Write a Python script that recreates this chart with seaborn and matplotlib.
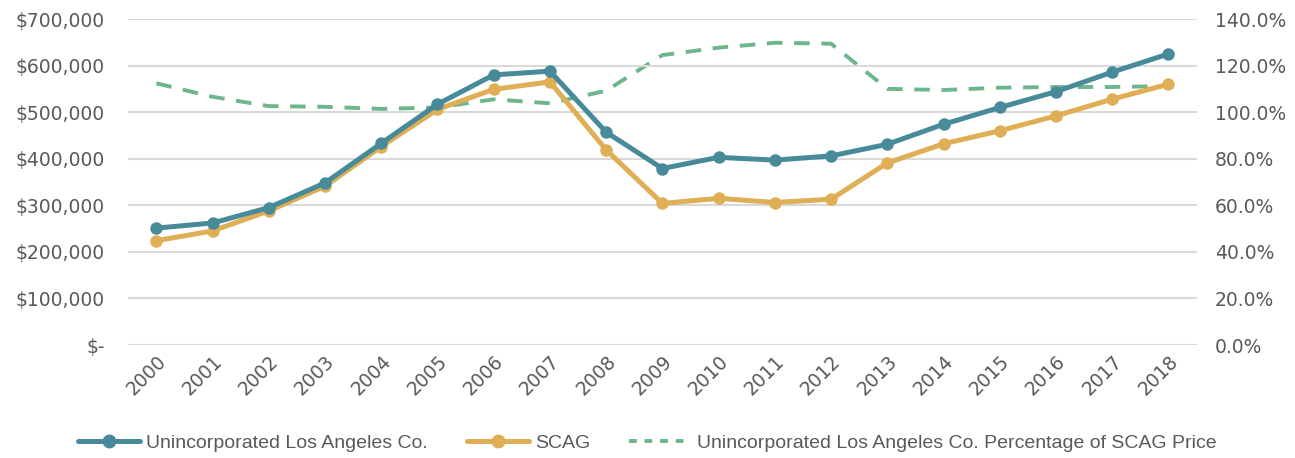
import pandas as pd
import numpy as np
import matplotlib
matplotlib.use('Agg')
import matplotlib.pyplot as plt
import seaborn as sns
from matplotlib.ticker import FuncFormatter, MultipleLocator
from matplotlib.lines import Line2D

# 数据
years = [str(y) for y in range(2000, 2019)]
unincorporated_la = [251000, 262000, 295000, 348000, 433000, 517000, 580000, 588000, 457000,
                     379000, 403000, 397000, 406000, 431000, 474000, 510000, 544000, 586000, 625000]
scag = [224000, 245000, 288000, 341000, 426000, 506000, 549000, 565000, 419000,
        304000, 315000, 306000, 313000, 391000, 432000, 460000, 492000, 528000, 560000]
pct_of_scag = [112.4, 106.6, 102.6, 102.3, 101.4, 102.0, 105.5, 103.8, 109.2,
               124.5, 127.7, 129.8, 129.4, 110.0, 109.5, 110.5, 110.8, 110.8, 111.2]

BLUE = '#478B9A'
GOLD = '#DFAE55'
GREEN = '#6DB68B'
GREY = '#595959'

sns.set_style('white')
plt.rcParams['font.family'] = ['DejaVu Sans']

df = pd.DataFrame({
    'pos': np.arange(len(years)),
    'year': years,
    'la': unincorporated_la,
    'scag': scag,
    'pct': pct_of_scag,
})

fig = plt.figure(figsize=(12.95, 4.58), dpi=100)
ax = fig.add_axes([0.099, 0.2467, 0.825, 0.7118])
ax2 = ax.twinx()

# 百分比虚线（右轴）
sns.lineplot(data=df, x='pos', y='pct', ax=ax2, color=GREEN, linewidth=2.8,
             linestyle=(0, (4, 3)), zorder=1)

sns.lineplot(data=df, x='pos', y='la', ax=ax, color=BLUE, linewidth=3.6,
             marker='o', markersize=9, markeredgewidth=0, zorder=3)
sns.lineplot(data=df, x='pos', y='scag', ax=ax, color=GOLD, linewidth=3.6,
             marker='o', markersize=9, markeredgewidth=0, zorder=2)

ax.set_zorder(ax2.get_zorder() + 1)
ax.patch.set_visible(False)

ax.set_xlim(-0.5, len(years) - 0.5)
ax.set_ylim(0, 700000)
ax.yaxis.set_major_locator(MultipleLocator(100000))
ax.yaxis.set_major_formatter(FuncFormatter(lambda v, p: '$-' if v == 0 else f'${v:,.0f}'))
ax2.set_ylim(0, 140)
ax2.yaxis.set_major_locator(MultipleLocator(20))
ax2.yaxis.set_major_formatter(FuncFormatter(lambda v, p: f'{v:.1f}%'))

ax.set_xticks(df['pos'])
ax.set_xticklabels(years, rotation=45, ha='right', rotation_mode='anchor')
ax.grid(axis='y', color='#D9D9D9', linewidth=1.5)
ax.set_xlabel('')
ax.set_ylabel('')
ax2.set_ylabel('')

for a in (ax, ax2):
    for s in a.spines.values():
        s.set_visible(False)
    a.tick_params(axis='both', length=0, labelsize=13.5, labelcolor=GREY)
ax.tick_params(axis='y', pad=17)
ax2.tick_params(axis='y', pad=13)
ax.tick_params(axis='x', pad=5)

handles = [
    Line2D([0], [0], color=BLUE, linewidth=3.6, marker='o', markersize=9),
    Line2D([0], [0], color=GOLD, linewidth=3.6, marker='o', markersize=9),
    Line2D([0], [0], color=GREEN, linewidth=2.8, linestyle=(0, (2, 2))),
]
labels = ['Unincorporated Los Angeles Co.', 'SCAG',
          'Unincorporated Los Angeles Co. Percentage of SCAG Price']
fig.legend(handles, labels, loc='center', bbox_to_anchor=(0.5, 0.033), ncol=3,
           frameon=False, labelcolor=GREY, handlelength=3.2,
           columnspacing=2.0, handletextpad=0.3,
           prop={'family': ['Liberation Sans'], 'size': 14})

fig.savefig('out.png', dpi=100)
